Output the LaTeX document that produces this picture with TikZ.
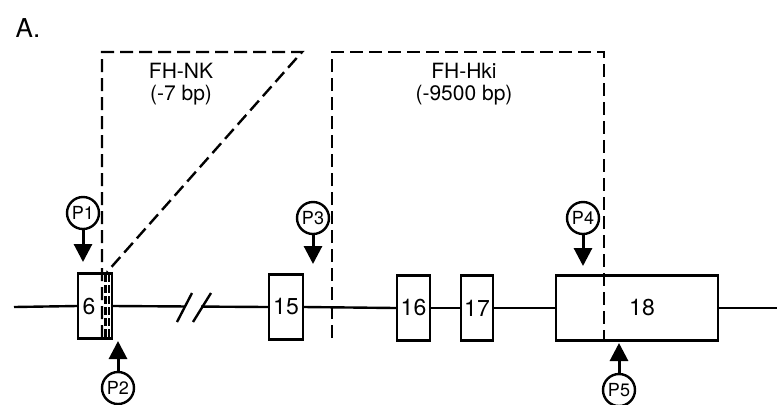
\documentclass[tikz,border=0pt]{standalone}
\usepackage{fontspec}
\setmainfont{TeX Gyre Heros}
\usetikzlibrary{positioning, arrows.meta}

\begin{document}
\begin{tikzpicture}[x=0.5pt, y=-0.5pt, line width=1.2pt,
    exon/.style={draw, fill=white, minimum height=32.5pt, inner sep=0pt},
    num/.style={font=\fontsize{11.5}{13}\selectfont, inner sep=0pt},
    primer/.style={draw, circle, fill=white, minimum size=16pt, inner sep=0pt, font=\fontsize{9}{10}\selectfont},
    probe/.style={-{Triangle[width=9pt,length=9pt]}, line width=1.5pt},
    delbox/.style={dash pattern=on 6.5pt off 3pt, line width=1.2pt},
    lbl/.style={font=\fontsize{10.5}{12}\selectfont, align=center}]
    \useasboundingbox (0,0) rectangle (777,404);
    \node[font=\fontsize{13}{15}\selectfont, inner sep=0pt] (panel) at (28,28) {A.};
    % exons
    \node[exon, minimum width=17pt] (e6) at (95,306) {};
    \node[exon, minimum width=17pt] (e15) at (286,307) {};
    \node[exon, minimum width=16.5pt] (e16) at (413.5,308) {};
    \node[exon, minimum width=16pt] (e17) at (477,308) {};
    \node[exon, minimum width=81pt] (e18) at (637,308) {};
    \node[num] (n6) at (89,307) {6};
    \node[num] (n15) at (286,307) {15};
    \node[num] (n16) at (413.5,308) {16};
    \node[num] (n17) at (477,308) {17};
    \node[num] (n18) at (642,308) {18};
    \coordinate (start) at (14,307);
    \coordinate (end) at (777,308);
    \draw (start) -- (e6.west);
    \draw (e6.east) -- (e15.west);
    \draw (e15.east) -- (e16.west);
    \draw (e16.east) -- (e17.west);
    \draw (e17.east) -- (e18.west);
    \draw (e18.east) -- (end);
    % break
    \fill[white] (185,300) rectangle (201,314);
    \draw (177,322) -- (192,293);
    \draw (193,322) -- (211,293);
    % deletions
    \coordinate (nkbl) at (102,338);
    \coordinate (nktl) at (102,52);
    \coordinate (nktr) at (302,52);
    \coordinate (nkend) at (107,272);
    \draw[delbox] (nkbl) -- (nktl) -- (nktr) -- (nkend);
    \draw[delbox, dash pattern=on 4pt off 1.5pt] (105.5,274) -- (105.5,338);
    \draw[delbox, dash pattern=on 4pt off 1.5pt] (109,274) -- (109,338);
    \coordinate (hkbl) at (332,338);
    \coordinate (hktl) at (332,52);
    \coordinate (hktr) at (604,52);
    \coordinate (hkbr) at (604,340);
    \draw[delbox] (hkbl) -- (hktl) -- (hktr) -- (hkbr);
    \node[lbl] (nk) at (181,84) {FH-NK\\[-1pt](-7 bp)};
    \node[lbl] (hk) at (464,84) {FH-Hki\\[-1pt](-9500 bp)};
    % primers
    \node[primer] (p1) at (83,213) {P1};
    \node[primer] (p2) at (118,388) {P2};
    \node[primer] (p3) at (313,218) {P3};
    \node[primer] (p4) at (583,218) {P4};
    \node[primer] (p5) at (619,390) {P5};
    \coordinate (t1) at (83,262);
    \coordinate (t2) at (118,341);
    \coordinate (t3) at (313,264);
    \coordinate (t4) at (583,266);
    \coordinate (t5) at (619,343);
    \draw[probe] (p1) -- (t1);
    \draw[probe] (p2) -- (t2);
    \draw[probe] (p3) -- (t3);
    \draw[probe] (p4) -- (t4);
    \draw[probe] (p5) -- (t5);
\end{tikzpicture}
\end{document}
